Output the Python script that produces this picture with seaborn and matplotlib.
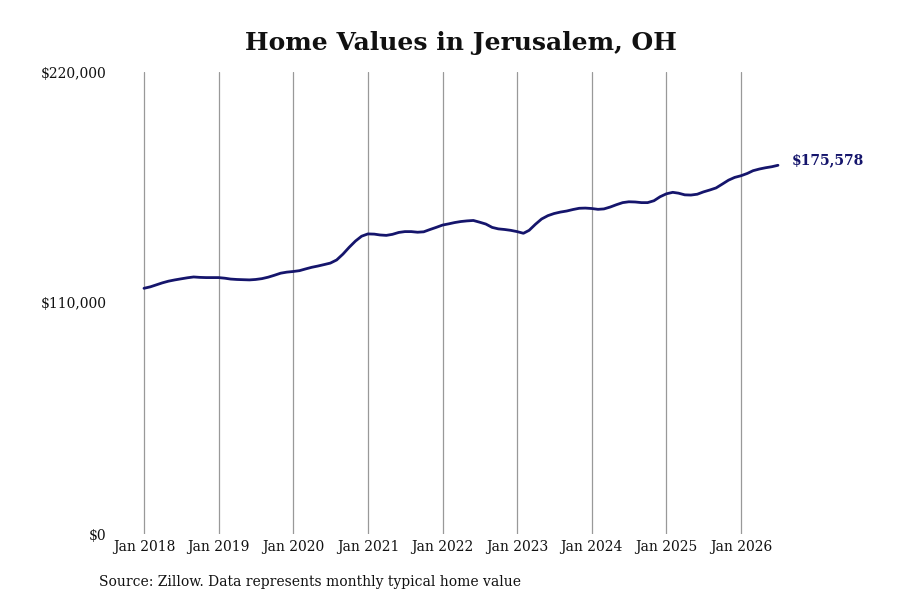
import pandas as pd
import seaborn as sns
import matplotlib.pyplot as plt
import matplotlib.dates as mdates
from matplotlib.ticker import FuncFormatter

# Monthly typical home value (Zillow), Jan 2018 - Jul 2026
start_month = "2018-01-01"
home_values = [
    117000, 117700, 118600, 119600, 120400, 121000, 121500, 122000, 122400, 122200, 122100, 122100,
    122100, 121800, 121400, 121200, 121100, 121000, 121200, 121600, 122300, 123200, 124200, 124700,
    125000, 125400, 126200, 127000, 127600, 128300, 129000, 130500, 133300, 136500, 139500, 141800,
    142900, 142800, 142400, 142200, 142700, 143600, 144000, 144000, 143700, 143900, 145000, 146000,
    147100, 147700, 148300, 148800, 149100, 149300, 148500, 147600, 146000, 145300, 145000, 144600,
    144000, 143200, 144600, 147500, 150000, 151600, 152600, 153300, 153800, 154500, 155100, 155200,
    155000, 154600, 154800, 155700, 156800, 157800, 158200, 158100, 157800, 157800, 158700, 160600,
    162000, 162700, 162300, 161500, 161400, 161800, 162900, 163800, 164800, 166600, 168500, 169800,
    170600, 171700, 173000, 173800, 174400, 174900, 175578,
]
y_ticks = [0, 110000, 220000]
x_tick_years = list(range(2018, 2027))

df = pd.DataFrame({
    "Date": pd.date_range(start_month, periods=len(home_values), freq="MS"),
    "Value": home_values,
})

sns.set_style("white")
plt.rcParams["font.family"] = ["DejaVu Serif"]

line_color = "#15156c"

fig = plt.figure(figsize=(9, 6), dpi=100)
ax = fig.add_axes([110 / 900, 66 / 600, 690 / 900, 462 / 600])

sns.lineplot(data=df, x="Date", y="Value", ax=ax, color=line_color, linewidth=2.0)

# axis ranges so Jan 2018 and Jan 2026 sit where the reference has them
px_per_day = (741 - 144) / (pd.Timestamp("2026-01-01") - pd.Timestamp("2018-01-01")).days
x0 = pd.Timestamp("2018-01-01") - pd.Timedelta(days=(144 - 110) / px_per_day)
x1 = pd.Timestamp("2018-01-01") + pd.Timedelta(days=(800 - 144) / px_per_day)
ax.set_xlim(x0, x1)
ax.set_ylim(0, 220000)

ax.set_xticks([pd.Timestamp(f"{y}-01-01") for y in x_tick_years])
ax.xaxis.set_major_formatter(mdates.DateFormatter("Jan %Y"))
ax.set_yticks(y_ticks)
ax.yaxis.set_major_formatter(FuncFormatter(lambda v, p: f"${v:,.0f}"))
ax.tick_params(axis="both", length=0, labelsize=10, colors="#111111")
ax.tick_params(axis="y", pad=2.5)
ax.tick_params(axis="x", pad=4)

ax.grid(axis="x", color="#999999", linewidth=0.9)
ax.grid(axis="y", visible=False)
sns.despine(ax=ax, left=True, bottom=True)
ax.set_xlabel("")
ax.set_ylabel("")

# end label
last = df.iloc[-1]
ax.annotate(f"${last['Value']:,.0f}", xy=(last["Date"], last["Value"]),
            xytext=(10, 3.5), textcoords="offset points", va="center", ha="left",
            fontsize=10, fontweight="bold", color=line_color, annotation_clip=False)

fig.text(461 / 900, 1 - 43 / 600, "Home Values in Jerusalem, OH", ha="center", va="center",
         fontsize=18, fontweight="bold", color="#111111")
fig.text(99 / 900, 1 - 582 / 600, "Source: Zillow. Data represents monthly typical home value",
         ha="left", va="center", fontsize=10, color="#111111")

fig.savefig("out.png", dpi=100)
